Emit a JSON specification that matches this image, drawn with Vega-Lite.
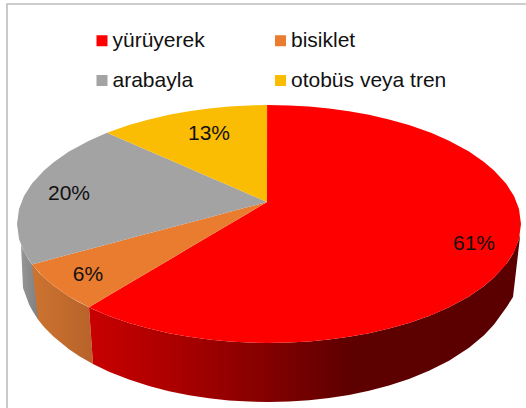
{
"$schema":"https://vega.github.io/schema/vega-lite/v6.json",
"width":526,"height":408,"padding":0,"autosize":{"type":"none"},
"background":"white",
"config":{"view":{"stroke":null},"font":"Liberation Sans"},
"datasets":{
"faces":[
{"slice":"yürüyerek","u":-180,"v":-83.3,"v2":-83.3},{"slice":"yürüyerek","u":-162,"v":-72.6,"v2":-91.2},{"slice":"yürüyerek","u":-140,"v":-59.6,"v2":-98.9},{"slice":"yürüyerek","u":-120,"v":-47.8,"v2":-104.6},{"slice":"yürüyerek","u":-100,"v":-36,"v2":-109.2},{"slice":"yürüyerek","u":-80,"v":-24.1,"v2":-112.8},{"slice":"yürüyerek","u":-60,"v":-12.3,"v2":-115.6},{"slice":"yürüyerek","u":-40,"v":-0.5,"v2":-117.5},{"slice":"yürüyerek","u":-20,"v":11.3,"v2":-118.6},{"slice":"yürüyerek","u":-2,"v":22,"v2":-119},
{"slice":"yürüyerek","u":-1.9,"v":119,"v2":-119},{"slice":"yürüyerek","u":20,"v":118.6,"v2":-118.6},{"slice":"yürüyerek","u":40,"v":117.5,"v2":-117.5},{"slice":"yürüyerek","u":60,"v":115.6,"v2":-115.6},{"slice":"yürüyerek","u":80,"v":112.8,"v2":-112.8},{"slice":"yürüyerek","u":100,"v":109.2,"v2":-109.2},{"slice":"yürüyerek","u":120,"v":104.6,"v2":-104.6},{"slice":"yürüyerek","u":140,"v":98.9,"v2":-98.9},{"slice":"yürüyerek","u":162,"v":91.2,"v2":-91.2},{"slice":"yürüyerek","u":180,"v":83.3,"v2":-83.3},{"slice":"yürüyerek","u":200,"v":72.4,"v2":-72.4},{"slice":"yürüyerek","u":215,"v":62.1,"v2":-62.1},{"slice":"yürüyerek","u":225,"v":53.6,"v2":-53.6},{"slice":"yürüyerek","u":237,"v":40.4,"v2":-40.4},{"slice":"yürüyerek","u":245,"v":27.9,"v2":-27.9},{"slice":"yürüyerek","u":250,"v":15,"v2":-15},{"slice":"yürüyerek","u":252,"v":0,"v2":0},
{"slice":"bisiklet","u":-237,"v":-40.4,"v2":-40.4},{"slice":"bisiklet","u":-225,"v":-37.2,"v2":-53.6},{"slice":"bisiklet","u":-215,"v":-34.6,"v2":-62.1},{"slice":"bisiklet","u":-200,"v":-30.6,"v2":-72.4},{"slice":"bisiklet","u":-180,"v":-25.3,"v2":-83.3},{"slice":"bisiklet","u":-162,"v":-20.5,"v2":-72.6},{"slice":"bisiklet","u":-140,"v":-14.6,"v2":-59.6},{"slice":"bisiklet","u":-120,"v":-9.3,"v2":-47.8},{"slice":"bisiklet","u":-100,"v":-4,"v2":-36},{"slice":"bisiklet","u":-80,"v":1.3,"v2":-24.1},{"slice":"bisiklet","u":-60,"v":6.6,"v2":-12.3},{"slice":"bisiklet","u":-40,"v":11.9,"v2":-0.5},{"slice":"bisiklet","u":-20,"v":17.2,"v2":11.3},{"slice":"bisiklet","u":-2,"v":22,"v2":22},
{"slice":"arabayla","u":-252,"v":0,"v2":0},{"slice":"arabayla","u":-250,"v":15,"v2":-15},{"slice":"arabayla","u":-245,"v":27.9,"v2":-27.9},{"slice":"arabayla","u":-237,"v":40.4,"v2":-40.4},{"slice":"arabayla","u":-225,"v":53.6,"v2":-37.2},{"slice":"arabayla","u":-215,"v":62.1,"v2":-34.6},{"slice":"arabayla","u":-200,"v":72.4,"v2":-30.6},{"slice":"arabayla","u":-180,"v":83.3,"v2":-25.3},{"slice":"arabayla","u":-162,"v":91.2,"v2":-20.5},{"slice":"arabayla","u":-140,"v":81.7,"v2":-14.6},{"slice":"arabayla","u":-120,"v":73,"v2":-9.3},{"slice":"arabayla","u":-100,"v":64.4,"v2":-4},{"slice":"arabayla","u":-80,"v":55.7,"v2":1.3},{"slice":"arabayla","u":-60,"v":47.1,"v2":6.6},{"slice":"arabayla","u":-40,"v":38.4,"v2":11.9},{"slice":"arabayla","u":-20,"v":29.8,"v2":17.2},{"slice":"arabayla","u":-2,"v":22,"v2":22},
{"slice":"otobüs veya tren","u":-162,"v":91.2,"v2":91.2},{"slice":"otobüs veya tren","u":-140,"v":98.9,"v2":81.7},{"slice":"otobüs veya tren","u":-120,"v":104.6,"v2":73},{"slice":"otobüs veya tren","u":-100,"v":109.2,"v2":64.4},{"slice":"otobüs veya tren","u":-80,"v":112.8,"v2":55.7},{"slice":"otobüs veya tren","u":-60,"v":115.6,"v2":47.1},{"slice":"otobüs veya tren","u":-40,"v":117.5,"v2":38.4},{"slice":"otobüs veya tren","u":-20,"v":118.6,"v2":29.8},{"slice":"otobüs veya tren","u":-2,"v":119,"v2":22}
],
"wallGray":[{"u":-248,"v":-21.1,"v2":-21.1},{"u":-246,"v":-25.8,"v2":-64},{"u":-240,"v":-36.3,"v2":-80.3},{"u":-237,"v":-40.4,"v2":-86.1},{"u":-231,"v":-47.6,"v2":-95.4}],
"wallOrange":[{"u":-237,"v":-40.4,"v2":-40.4},{"u":-231,"v":-47.6,"v2":-95.4},{"u":-225,"v":-53.6,"v2":-102.9},{"u":-215,"v":-62.1,"v2":-113.1},{"u":-200,"v":-72.4,"v2":-125.3},{"u":-190,"v":-78.2,"v2":-131.9},{"u":-180,"v":-83.3,"v2":-137.8},{"u":-176,"v":-140,"v2":-140}],
"wallRed":[{"u":-180,"v":-83.3,"v2":-83.3},{"u":-176,"v":-85.2,"v2":-140},{"u":-160,"v":-91.9,"v2":-147.7},{"u":-140,"v":-98.9,"v2":-155.6},{"u":-120,"v":-104.6,"v2":-162},{"u":-100,"v":-109.2,"v2":-167.2},{"u":-80,"v":-112.8,"v2":-171.2},{"u":-60,"v":-115.6,"v2":-174.3},{"u":-40,"v":-117.5,"v2":-176.4},{"u":-20,"v":-118.6,"v2":-177.6},{"u":0,"v":-119,"v2":-178},{"u":20,"v":-118.6,"v2":-177.5},{"u":40,"v":-117.5,"v2":-176.2},{"u":60,"v":-115.6,"v2":-174},{"u":80,"v":-112.8,"v2":-170.9},{"u":100,"v":-109.2,"v2":-166.7},{"u":120,"v":-104.6,"v2":-161.4},{"u":140,"v":-98.9,"v2":-154.9},{"u":160,"v":-91.9,"v2":-146.8},{"u":180,"v":-83.3,"v2":-136.7},{"u":200,"v":-72.4,"v2":-123.8},{"u":215,"v":-62.1,"v2":-111.3},{"u":225,"v":-53.6,"v2":-100.6},{"u":238,"v":-39,"v2":-82.4},{"u":244,"v":-29.8,"v2":-73},{"u":250,"v":-15,"v2":-21.6},{"u":251,"v":-10.6,"v2":-13}],
"frame":[{"u":-262,"v":-184,"k":1},{"u":-262,"v":220,"k":2},{"u":257,"v":220,"k":3}],
"labels":[{"slice":"yürüyerek","share":"61%","u":205,"v":-20},{"slice":"bisiklet","share":"6%","u":-181,"v":-51},{"slice":"arabayla","share":"20%","u":-200,"v":30},{"slice":"otobüs veya tren","share":"13%","u":-60,"v":90}]
},
"layer":[
{"data":{"name":"frame"},"mark":{"type":"line","color":"#bdbdbd","strokeWidth":1.6,"clip":false},
 "encoding":{"x":{"field":"u","type":"quantitative","scale":{"domain":[-269,257],"nice":false,"zero":false},"axis":null},"y":{"field":"v","type":"quantitative","scale":{"domain":[-184,224],"nice":false,"zero":false},"axis":null},"order":{"field":"k"}}},
{"data":{"name":"wallGray"},"mark":{"type":"area","color":{"gradient":"linear","x1":0,"y1":0,"x2":1,"y2":0,"stops":[{"offset":0,"color":"#969696"},{"offset":1,"color":"#808080"}]}},
 "encoding":{"x":{"field":"u","type":"quantitative"},"y":{"field":"v","type":"quantitative"},"y2":{"field":"v2"}}},
{"data":{"name":"wallOrange"},"mark":{"type":"area","color":{"gradient":"linear","x1":0,"y1":0,"x2":1,"y2":0,"stops":[{"offset":0,"color":"#cc7430"},{"offset":1,"color":"#b8622a"}]}},
 "encoding":{"x":{"field":"u","type":"quantitative"},"y":{"field":"v","type":"quantitative"},"y2":{"field":"v2"}}},
{"data":{"name":"wallRed"},"mark":{"type":"area","color":{"gradient":"linear","x1":0,"y1":0,"x2":1,"y2":0,"stops":[{"offset":0,"color":"#c80000"},{"offset":0.2,"color":"#ab0000"},{"offset":0.4,"color":"#860000"},{"offset":0.6,"color":"#5e0000"},{"offset":1,"color":"#5a0000"}]}},
 "encoding":{"x":{"field":"u","type":"quantitative"},"y":{"field":"v","type":"quantitative"},"y2":{"field":"v2"}}},
{"data":{"name":"faces"},"mark":{"type":"area"},
 "encoding":{"x":{"field":"u","type":"quantitative"},"y":{"field":"v","type":"quantitative"},"y2":{"field":"v2"},
  "color":{"field":"slice","type":"nominal","scale":{"domain":["yürüyerek","bisiklet","arabayla","otobüs veya tren"],"range":["#ff0000","#ea7c30","#a3a3a3","#fbbc04"]},
   "legend":{"title":null,"orient":"none","direction":"horizontal","legendX":91.5,"legendY":30,"columns":2,"columnPadding":64.5,"rowPadding":18,"symbolType":"square","symbolSize":121,"symbolStrokeWidth":0,"symbolOpacity":1,"labelFont":"Liberation Sans","labelFontSize":21,"labelColor":"#111111","labelOffset":0,"labelLimit":300,"gridAlign":"each","padding":0}}}},
{"data":{"name":"labels"},"mark":{"type":"text","font":"Liberation Sans","fontSize":21,"color":"#111111","baseline":"middle","align":"center"},
 "encoding":{"x":{"field":"u","type":"quantitative"},"y":{"field":"v","type":"quantitative"},"text":{"field":"share","type":"nominal"}}}
]
}
